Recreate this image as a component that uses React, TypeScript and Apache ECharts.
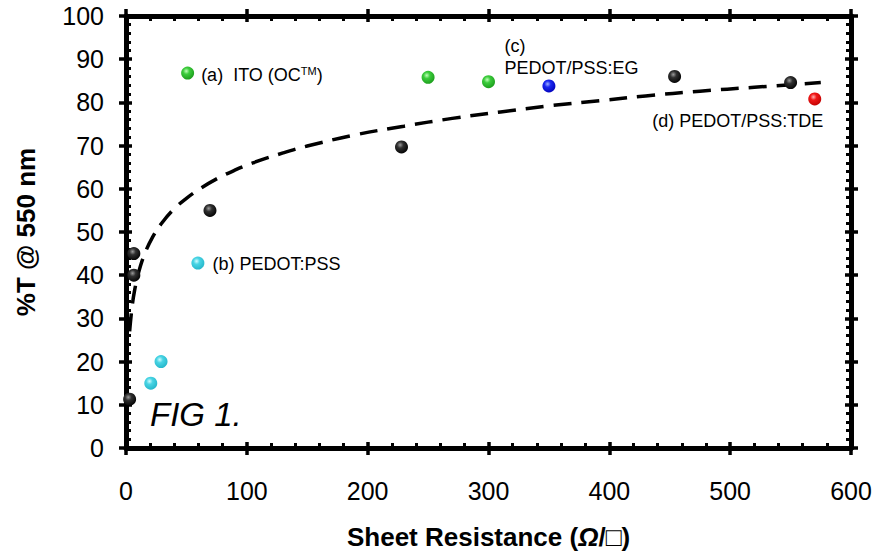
import React, { useEffect, useRef } from "react";
import * as echarts from "echarts";

// ---- data ----
const xTicks = [0, 100, 200, 300, 400, 500, 600];
const yTicks = [0, 10, 20, 30, 40, 50, 60, 70, 80, 90, 100];

// black: reference conductors
const blackPts: [number, number][] = [
  [3, 11.3], [6.5, 40], [6.5, 45], [69.5, 55], [228, 69.7], [454, 86], [550, 84.6],
];
// (a) ITO (OC)
const greenPts: [number, number][] = [[51, 86.8], [250, 85.8], [300, 84.8]];
// (b) PEDOT:PSS
const cyanPts: [number, number][] = [[59.5, 42.8], [29, 20], [20.5, 15]];
// (c) PEDOT/PSS:EG
const bluePts: [number, number][] = [[350, 83.8]];
// (d) PEDOT/PSS:TDE
const redPts: [number, number][] = [[570, 80.8]];

// dashed fit line
const fitX = [3, 5, 7, 10, 15, 22, 30, 40, 50, 60, 75, 90, 105, 130, 150, 190, 230, 270, 310, 350, 392, 430, 475, 520, 575];
const fitY = [27, 32.6, 36.3, 40.2, 44.6, 48.8, 52.2, 55.4, 57.8, 59.8, 62.3, 64.3, 66, 68.3, 69.9, 72.5, 74.5, 76.3, 77.8, 79.2, 80.4, 81.5, 82.6, 83.5, 84.6];

const FONT = "'Liberation Sans', Arial, Helvetica, sans-serif";

function ball(light: string, mid: string, dark: string) {
  return {
    type: "radial",
    x: 0.4,
    y: 0.35,
    r: 0.7,
    colorStops: [
      { offset: 0, color: light },
      { offset: 0.35, color: mid },
      { offset: 1, color: dark },
    ],
  };
}

export default function App() {
  const ref = useRef<HTMLDivElement>(null);

  useEffect(() => {
    if (!ref.current) return;
    const chart = echarts.init(ref.current, null, { renderer: "svg" });

    const xMin = xTicks[0];
    const xMax = xTicks[xTicks.length - 1];
    const xInt = xTicks[1] - xTicks[0];
    const yMin = yTicks[0];
    const yMax = yTicks[yTicks.length - 1];
    const yInt = yTicks[1] - yTicks[0];

    const lineBlack = { color: "#000", width: 5 };
    const majorTick = { show: true, inside: false, length: 7, lineStyle: { color: "#000", width: 3.5 } };
    const innerTick = { show: true, inside: true, length: 6, lineStyle: { color: "#000", width: 3.5 } };
    const minorTick = { show: true, splitNumber: 5, length: 5, lineStyle: { color: "#000", width: 3 } };

    const majorAxisX = (position: string, labels: boolean) => ({
      type: "value",
      position,
      min: xMin,
      max: xMax,
      interval: xInt,
      splitLine: { show: false },
      axisLine: { show: true, onZero: false, lineStyle: lineBlack },
      axisTick: majorTick,
      axisLabel: labels
        ? { show: true, fontSize: 25, color: "#000", margin: 30, fontFamily: FONT }
        : { show: false },
      ...(labels
        ? {
            name: "Sheet Resistance ({i|Ω}/□)",
            nameLocation: "middle",
            nameGap: 76,
            nameTextStyle: {
              fontSize: 26,
              fontWeight: "bold",
              color: "#000",
              fontFamily: FONT,
              rich: { i: { fontSize: 26, fontWeight: "bold", fontStyle: "italic", color: "#000", fontFamily: FONT } },
            },
          }
        : {}),
    });
    const minorAxisX = (position: string) => ({
      type: "value",
      position,
      min: xMin,
      max: xMax,
      interval: xInt,
      splitLine: { show: false },
      axisLine: { show: false, onZero: false },
      axisTick: innerTick,
      minorTick,
      axisLabel: { show: false },
    });
    const majorAxisY = (position: string, labels: boolean) => ({
      type: "value",
      position,
      min: yMin,
      max: yMax,
      interval: yInt,
      splitLine: { show: false },
      axisLine: { show: true, onZero: false, lineStyle: lineBlack },
      axisTick: majorTick,
      axisLabel: labels
        ? { show: true, fontSize: 25, color: "#000", margin: 22, fontFamily: FONT }
        : { show: false },
      ...(labels
        ? {
            name: "%T @ 550 nm",
            nameLocation: "middle",
            nameGap: 87,
            nameTextStyle: { fontSize: 26, fontWeight: "bold", color: "#000", fontFamily: FONT },
          }
        : {}),
    });
    const minorAxisY = (position: string) => ({
      type: "value",
      position,
      min: yMin,
      max: yMax,
      interval: yInt,
      splitLine: { show: false },
      axisLine: { show: false, onZero: false },
      axisTick: innerTick,
      minorTick,
      axisLabel: { show: false },
    });

    const annot = { fontSize: 18, color: "#000", fontFamily: FONT, textBorderWidth: 0 };

    const scatterBase = (name: string, data: any[], light: string, mid: string, dark: string) => ({
      name,
      type: "scatter",
      xAxisIndex: 0,
      yAxisIndex: 0,
      symbol: "circle",
      symbolSize: 13,
      z: 5,
      itemStyle: { color: ball(light, mid, dark), opacity: 1 },
      data,
    });

    chart.setOption({
      animation: false,
      backgroundColor: "#fff",
      grid: { left: 126, right: 24, top: 16, bottom: 105, outerBoundsMode: "none" },
      xAxis: [majorAxisX("bottom", true), minorAxisX("bottom"), majorAxisX("top", false), minorAxisX("top")],
      yAxis: [majorAxisY("left", true), minorAxisY("left"), majorAxisY("right", false), minorAxisY("right")],
      graphic: [
        {
          type: "text",
          left: 150,
          top: 398,
          style: { text: "FIG 1.", fontSize: 33, fontStyle: "italic", fill: "#000", fontFamily: FONT },
          z: 10,
        },
      ],
      series: [
        {
          name: "fit",
          type: "line",
          xAxisIndex: 0,
          yAxisIndex: 0,
          smooth: 0.4,
          symbol: "none",
          z: 3,
          lineStyle: { color: "#000", width: 3.5, type: [18, 10] },
          data: fitX.map((x, i) => [x, fitY[i]]),
        },
        scatterBase("black", blackPts, "#9a9a9a", "#303030", "#000"),
        scatterBase(
          "ITO",
          greenPts.map((p, i) =>
            i === 0
              ? {
                  value: p,
                  label: {
                    show: true,
                    position: "right",
                    distance: 7,
                    offset: [0, 2],
                    formatter: "(a)  ITO (OC{sup|TM})",
                    ...annot,
                    rich: { sup: { fontSize: 11, color: "#000", fontFamily: FONT, padding: [0, 0, 9, 0] } },
                  },
                }
              : { value: p }
          ),
          "#c0ffb8",
          "#3ccc3c",
          "#1a9a1a"
        ),
        scatterBase(
          "PEDOT:PSS",
          cyanPts.map((p, i) =>
            i === 0
              ? { value: p, label: { show: true, position: "right", distance: 8, offset: [0, 1], formatter: "(b) PEDOT:PSS", ...annot } }
              : { value: p }
          ),
          "#d0fcff",
          "#48d4e4",
          "#22b4c8"
        ),
        scatterBase(
          "PEDOT/PSS:EG",
          bluePts.map((p) => ({
            value: p,
            label: {
              show: true,
              position: [-38, -44],
              align: "left",
              verticalAlign: "top",
              lineHeight: 22,
              formatter: "(c)\nPEDOT/PSS:EG",
              ...annot,
            },
          })),
          "#a0b0ff",
          "#1a28f0",
          "#0000b8"
        ),
        scatterBase(
          "PEDOT/PSS:TDE",
          redPts.map((p) => ({
            value: p,
            label: {
              show: true,
              position: [-156, 20],
              align: "left",
              verticalAlign: "top",
              formatter: "(d) PEDOT/PSS:TDE",
              ...annot,
            },
          })),
          "#ffb0b0",
          "#f01818",
          "#c00000"
        ),
      ],
    });

    return () => chart.dispose();
  }, []);

  return (
    <div
      ref={ref}
      style={{ position: "absolute", left: 0, top: 0, width: 875, height: 553, background: "#fff" }}
    />
  );
}
